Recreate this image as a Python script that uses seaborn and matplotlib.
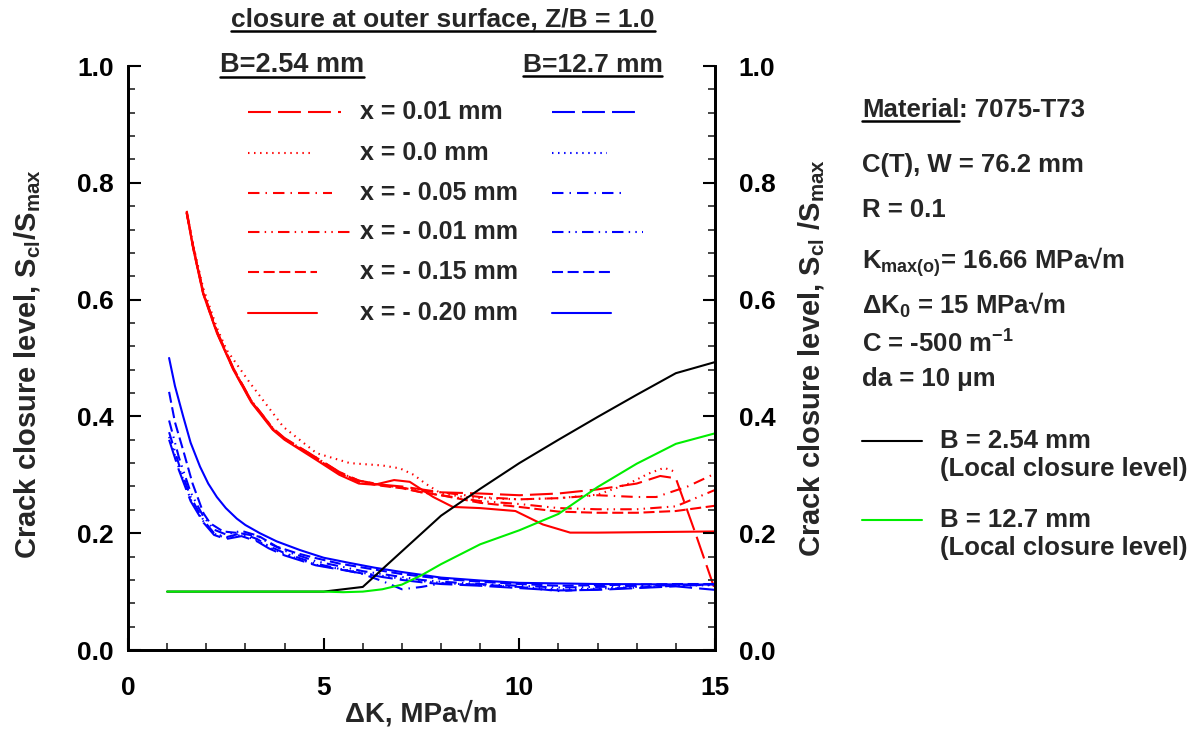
import matplotlib
matplotlib.use('Agg')
import matplotlib.pyplot as plt
from matplotlib.lines import Line2D
from matplotlib.ticker import MultipleLocator, FormatStrFormatter
import seaborn as sns

# Data: delta K (MPa sqrt m) vs closure level Scl/Smax
# B = 2.54 mm (red), six locations x behind the crack tip
r_x_001 = [1.5, 1.67, 1.92, 2.27, 2.69, 3.15, 3.7, 4.0, 4.8, 5.4, 5.9, 6.5, 7.0, 7.5, 8.0, 9.0, 10.0, 11.0, 12.0, 13.0, 13.6, 14.0, 14.5, 15.0]
r_y_001 = [0.752, 0.69, 0.614, 0.546, 0.483, 0.427, 0.38, 0.363, 0.33, 0.305, 0.29, 0.283, 0.28, 0.275, 0.27, 0.268, 0.265, 0.268, 0.275, 0.285, 0.298, 0.294, 0.20, 0.103]
r_x_000 = [1.5, 1.67, 1.92, 2.27, 2.52, 3.12, 3.97, 4.82, 5.67, 6.5, 6.95, 7.3, 7.6, 8.0, 8.6, 9.0, 10.0, 11.0, 12.0, 12.8, 13.3, 13.7, 13.95]
r_y_000 = [0.75, 0.692, 0.62, 0.552, 0.514, 0.457, 0.382, 0.337, 0.32, 0.316, 0.311, 0.30, 0.285, 0.268, 0.262, 0.26, 0.258, 0.26, 0.266, 0.285, 0.302, 0.312, 0.306]
r_x_m005 = [1.5, 1.67, 1.92, 2.27, 2.69, 3.15, 3.7, 4.0, 4.8, 5.4, 5.9, 6.5, 7.0, 7.5, 8.0, 9.0, 10.0, 11.0, 12.0, 13.0, 13.5, 14.3, 15.0]
r_y_m005 = [0.748, 0.688, 0.612, 0.545, 0.482, 0.426, 0.379, 0.362, 0.329, 0.304, 0.289, 0.282, 0.278, 0.272, 0.27, 0.262, 0.258, 0.26, 0.265, 0.262, 0.262, 0.28, 0.302]
r_x_m001 = [1.5, 1.67, 1.92, 2.27, 2.69, 3.15, 3.7, 4.0, 4.8, 5.4, 5.9, 6.5, 7.0, 7.5, 8.0, 9.0, 10.0, 11.0, 12.0, 13.0, 14.0, 15.0]
r_y_m001 = [0.749, 0.689, 0.613, 0.546, 0.482, 0.427, 0.38, 0.362, 0.33, 0.304, 0.29, 0.282, 0.278, 0.27, 0.265, 0.255, 0.25, 0.243, 0.241, 0.241, 0.246, 0.274]
r_x_m015 = [1.5, 1.67, 1.92, 2.27, 2.69, 3.15, 3.7, 4.0, 4.8, 5.4, 5.9, 6.5, 7.0, 7.5, 8.0, 9.0, 10.0, 11.0, 12.0, 13.0, 14.0, 15.0]
r_y_m015 = [0.75, 0.687, 0.611, 0.544, 0.481, 0.425, 0.378, 0.361, 0.328, 0.303, 0.288, 0.281, 0.277, 0.27, 0.265, 0.252, 0.245, 0.237, 0.235, 0.235, 0.238, 0.247]
r_x_m020 = [1.5, 1.67, 1.92, 2.27, 2.69, 3.15, 3.7, 4.0, 4.8, 5.4, 5.9, 6.3, 6.8, 7.2, 7.8, 8.3, 9.0, 9.9, 10.6, 11.3, 12.0, 13.5, 15.0]
r_y_m020 = [0.748, 0.686, 0.61, 0.543, 0.48, 0.424, 0.377, 0.36, 0.326, 0.3, 0.285, 0.283, 0.291, 0.288, 0.262, 0.245, 0.243, 0.238, 0.215, 0.201, 0.201, 0.202, 0.203]

# B = 12.7 mm (blue)
b_x = [1.05, 1.3, 1.6, 1.93, 2.2, 2.5, 2.9, 3.3, 3.6, 4.0, 4.8, 6.0, 6.5, 7.0, 7.5, 8.0, 9.0, 10.0, 11.0, 12.0, 13.0, 14.0, 15.0]
b_y_001 = [0.36, 0.308, 0.255, 0.218, 0.197, 0.19, 0.195, 0.186, 0.174, 0.162, 0.145, 0.131, 0.125, 0.12, 0.116, 0.113, 0.11, 0.106, 0.102, 0.103, 0.106, 0.109, 0.103]
b_y_000 = [0.365, 0.312, 0.258, 0.22, 0.199, 0.192, 0.197, 0.188, 0.176, 0.164, 0.146, 0.132, 0.127, 0.122, 0.118, 0.115, 0.111, 0.108, 0.104, 0.105, 0.108, 0.11, 0.111]
b_y_m005 = [0.373, 0.318, 0.262, 0.222, 0.2, 0.193, 0.2, 0.19, 0.178, 0.166, 0.148, 0.13, 0.118, 0.104, 0.108, 0.114, 0.112, 0.108, 0.101, 0.104, 0.107, 0.11, 0.112]
b_y_m001 = [0.393, 0.33, 0.27, 0.228, 0.206, 0.198, 0.204, 0.196, 0.183, 0.17, 0.152, 0.135, 0.13, 0.125, 0.12, 0.117, 0.113, 0.11, 0.107, 0.108, 0.11, 0.111, 0.112]
b_x_m015 = [1.05, 1.2, 1.41, 1.65, 1.93, 2.1, 2.43, 2.86, 3.37, 3.8, 4.3, 4.82, 5.4, 6.1, 7.0, 8.0, 9.0, 10.0, 11.0, 12.0, 13.0, 14.0, 15.0]
b_y_m015 = [0.442, 0.39, 0.342, 0.285, 0.234, 0.217, 0.203, 0.2, 0.194, 0.177, 0.166, 0.157, 0.148, 0.14, 0.13, 0.122, 0.117, 0.113, 0.11, 0.111, 0.112, 0.113, 0.113]
b_x_m020 = [1.05, 1.2, 1.41, 1.6, 1.84, 2.05, 2.27, 2.5, 2.78, 3.0, 3.37, 3.8, 4.4, 5.0, 5.67, 6.3, 6.95, 8.0, 9.0, 10.0, 12.0, 15.0]
b_y_m020 = [0.5, 0.452, 0.40, 0.355, 0.314, 0.285, 0.262, 0.243, 0.225, 0.214, 0.2, 0.186, 0.171, 0.158, 0.149, 0.141, 0.134, 0.124, 0.119, 0.115, 0.113, 0.112]

# local closure levels
loc_x_thin = [1, 5, 6, 7, 8, 9, 10, 11, 12, 13, 14, 15]
loc_y_thin = [0.1, 0.1, 0.108, 0.169, 0.23, 0.276, 0.32, 0.36, 0.399, 0.437, 0.474, 0.493]
loc_x_thick = [1, 5, 5.5, 6, 6.5, 7, 7.5, 8, 9, 10, 11, 12, 13, 14, 15]
loc_y_thick = [0.1, 0.1, 0.099, 0.1, 0.104, 0.112, 0.128, 0.147, 0.181, 0.205, 0.233, 0.279, 0.319, 0.353, 0.371]

legend_labels = ['x = 0.01 mm', 'x = 0.0 mm', 'x = - 0.05 mm', 'x = - 0.01 mm', 'x = - 0.15 mm', 'x = - 0.20 mm']
styles = [(0, (11, 3.4)), (0, (0.7, 2.2)), (0, (5.5, 2.9, 0.7, 2.9)),
          (0, (5.5, 2.5, 0.7, 2.5, 0.7, 2.5)), (0, (5.3, 2.2)), '-']

red_series = [(r_x_001, r_y_001), (r_x_000, r_y_000), (r_x_m005, r_y_m005),
              (r_x_m001, r_y_m001), (r_x_m015, r_y_m015), (r_x_m020, r_y_m020)]
blue_series = [(b_x, b_y_001), (b_x, b_y_000), (b_x, b_y_m005),
               (b_x, b_y_m001), (b_x_m015, b_y_m015), (b_x_m020, b_y_m020)]

sns.set_theme(style='white')
plt.rcParams['font.family'] = ['Liberation Sans', 'DejaVu Sans']
plt.rcParams['font.weight'] = 'bold'
plt.rcParams['axes.labelweight'] = 'bold'
plt.rcParams['mathtext.fontset'] = 'custom'
plt.rcParams['mathtext.rm'] = 'Liberation Sans:bold'
plt.rcParams['mathtext.it'] = 'Liberation Sans:bold'
plt.rcParams['mathtext.bf'] = 'Liberation Sans:bold'
plt.rcParams['mathtext.default'] = 'bf'

fig = plt.figure(figsize=(11.93, 7.31), dpi=100)
ax = fig.add_axes([0.1073, 0.1108, 0.4920, 0.7989])

for (xs, ys), ls in zip(red_series, styles):
    sns.lineplot(x=xs, y=ys, color='#ff0000', linestyle=ls, lw=1.5, ax=ax, sort=False, estimator=None)
for (xs, ys), ls in zip(blue_series, styles):
    sns.lineplot(x=xs, y=ys, color='#0000ff', linestyle=ls, lw=1.5, ax=ax, sort=False, estimator=None)
sns.lineplot(x=loc_x_thin, y=loc_y_thin, color='black', lw=1.5, ax=ax, sort=False, estimator=None)
sns.lineplot(x=loc_x_thick, y=loc_y_thick, color='#00ee00', lw=1.5, ax=ax, sort=False, estimator=None)

ax.set_xlim(0, 15)
ax.set_ylim(0, 1)
ax2 = ax.twinx()
ax2.set_ylim(0, 1)

for a in (ax, ax2):
    for s in a.spines.values():
        s.set_linewidth(2)
        s.set_color('black')
    a.spines['top'].set_visible(False)
    a.yaxis.set_major_locator(MultipleLocator(0.2))
    a.yaxis.set_minor_locator(MultipleLocator(0.04))
    a.yaxis.set_major_formatter(FormatStrFormatter('%.1f'))
    a.tick_params(which='major', direction='in', length=9, width=1.5, labelsize=19, colors='black')
    a.tick_params(which='minor', direction='in', length=5, width=1.2)
ax.xaxis.set_major_locator(MultipleLocator(5))
ax.xaxis.set_minor_locator(MultipleLocator(1))
ax.tick_params(axis='x', which='both', bottom=True, top=False, pad=19)
ax.tick_params(axis='y', which='both', left=True, right=False, pad=10)
ax2.tick_params(axis='y', which='both', left=False, right=True, pad=17)

ax.set_xlabel('ΔK, MPa√m', fontsize=20)
ax.xaxis.set_label_coords(0.5, -0.088)
ax.set_ylabel('Crack closure level, S$_{cl}$/S$_{max}$', fontsize=21)
ax.yaxis.set_label_coords(-0.145, 0.49)
ax2.set_ylabel('Crack closure level, S$_{cl}$ /S$_{max}$', fontsize=21)
ax2.yaxis.set_label_coords(1.138, 0.5)

# legend built like the original: red sample, label, blue sample
rows = [0.921, 0.851, 0.783, 0.716, 0.647, 0.577]
red_ends = [0.363, 0.315, 0.3475, 0.378, 0.322, 0.322]
blue_ends = [0.864, 0.816, 0.848, 0.877, 0.823, 0.823]
for yy, ls, lab, re_, be_ in zip(rows, styles, legend_labels, red_ends, blue_ends):
    ax.plot([0.205, re_], [yy, yy], transform=ax.transAxes, color='#ff0000', linestyle=ls, lw=1.5)
    ax.plot([0.722, be_], [yy, yy], transform=ax.transAxes, color='#0000ff', linestyle=ls, lw=1.5)
    ax.text(0.395, yy, lab, transform=ax.transAxes, fontsize=18, va='center', ha='left')

underlined = []
underlined.append(fig.text(0.194, 0.973, 'closure at outer surface, Z/B = 1.0', fontsize=19, va='center'))
underlined.append(fig.text(0.1845, 0.911, 'B=2.54 mm', fontsize=19.5, va='center'))
underlined.append(fig.text(0.438, 0.911, 'B=12.7 mm', fontsize=19, va='center'))
mat = fig.text(0.7225, 1 - 110 / 731, 'Material', fontsize=18.5, va='center')
underlined.append(mat)

info = [('C(T), W = 76.2 mm', 165), ('R = 0.1', 210),
        ('K$_{max(o)}$= 16.66 MPa√m', 262), ('ΔK$_0$ = 15 MPa√m', 305),
        ('C = -500 m$^{-1}$', 344), ('da = 10 μm', 379)]
for txt, py in info:
    fig.text(0.7225, 1 - py / 731, txt, fontsize=18.5, va='center')

for col, lab, py in [('black', 'B = 2.54 mm', 441), ('#00ee00', 'B = 12.7 mm', 520)]:
    yf = 1 - py / 731
    fig.add_artist(Line2D([0.7225, 0.773], [yf, yf], color=col, lw=1.5))
    fig.text(0.788, yf, lab, fontsize=18.5, va='center')
    fig.text(0.788, yf - 28 / 731, '(Local closure level)', fontsize=18.5, va='center')

fig.canvas.draw()
r = fig.canvas.get_renderer()
W, H = fig.bbox.width, fig.bbox.height
mb = mat.get_window_extent(r)
fig.text(mb.x1 / W, 1 - 110 / 731, ': 7075-T73', fontsize=18.5, va='center')
for t in underlined:
    bb = t.get_window_extent(r)
    yl = (bb.y0 + 1) / H
    fig.add_artist(Line2D([bb.x0 / W, bb.x1 / W], [yl, yl], color='black', lw=1.8))

fig.savefig('out.png', dpi=100)
